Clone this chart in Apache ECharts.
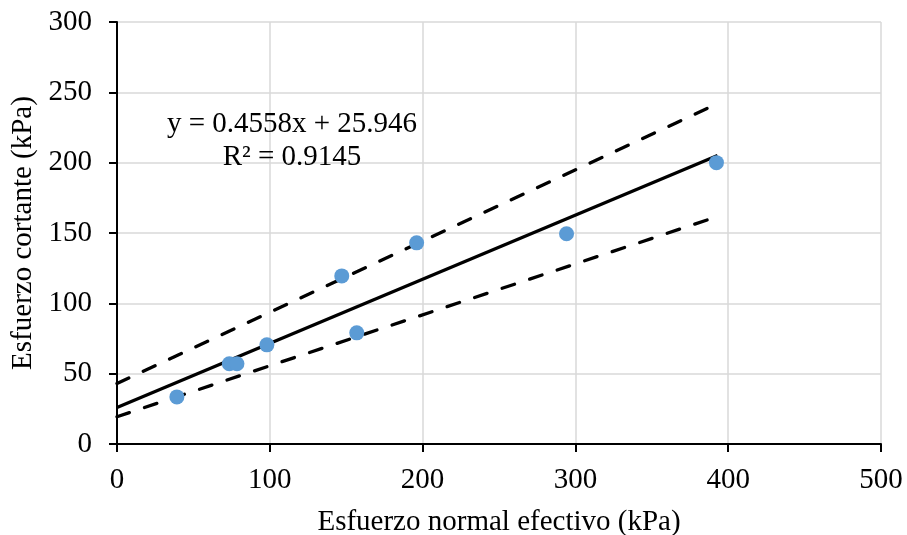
<!DOCTYPE html>
<html>
<head>
<meta charset="utf-8">
<script src="https://cdn.jsdelivr.net/npm/echarts@6/dist/echarts.min.js"></script>
<style>
html,body{margin:0;padding:0;background:#fff;}
#chart{width:907px;height:535px;}
</style>
</head>
<body>
<div id="chart"></div>
<script>
// Data
const sigmaN = [39.2, 73.5, 78.5, 98.1, 147.1, 156.9, 196.1, 294.2, 392.3];
const tau = [33.5, 57, 57, 70.5, 119.5, 79, 143, 149.5, 200];
const trendX = [0, 393];
const trendY = [25.9, 205.1];
const upperX = [0, 390];
const upperY = [43, 240.5];
const lowerX = [0, 391];
const lowerY = [19.4, 161];
const xTicks = [0, 100, 200, 300, 400, 500];
const yTicks = [0, 50, 100, 150, 200, 250, 300];
const eqLine1 = 'y = 0.4558x + 25.946';
const eqLine2 = 'R² = 0.9145';

const FONT = '"Liberation Serif", "Times New Roman", serif';
const pairs = (xs, ys) => xs.map((x, i) => [x, ys[i]]);

const chart = echarts.init(document.getElementById('chart'), null, {renderer: 'canvas'});
const dashStyle = {color: '#000', width: 3.3, type: [13, 16], cap: 'round'};
chart.setOption({
  animation: false,
  backgroundColor: '#fff',
  grid: {left: 117, right: 26, top: 22, bottom: 91, containLabel: false, outerBoundsMode: 'none'},
  xAxis: {
    type: 'value', min: xTicks[0], max: xTicks[xTicks.length - 1], interval: 100,
    name: 'Esfuerzo normal efectivo (kPa)', nameLocation: 'middle', nameGap: 64,
    nameTextStyle: {fontFamily: FONT, fontSize: 29, color: '#000'},
    axisLine: {onZero: false, lineStyle: {color: '#000', width: 2}},
    axisTick: {show: true, inside: false, length: 8, lineStyle: {color: '#000', width: 2}},
    axisLabel: {margin: 22, fontFamily: FONT, fontSize: 29, color: '#000'},
    splitLine: {show: true, lineStyle: {color: '#d9d9d9', width: 1.5}}
  },
  yAxis: {
    type: 'value', min: yTicks[0], max: yTicks[yTicks.length - 1], interval: 50,
    name: 'Esfuerzo cortante (kPa)', nameLocation: 'middle', nameGap: 76,
    nameTextStyle: {fontFamily: FONT, fontSize: 29, color: '#000'},
    axisLine: {onZero: false, lineStyle: {color: '#000', width: 2}},
    axisTick: {show: true, inside: false, length: 8, lineStyle: {color: '#000', width: 2}},
    axisLabel: {margin: 25, fontFamily: FONT, fontSize: 29, color: '#000'},
    splitLine: {show: true, lineStyle: {color: '#d9d9d9', width: 1.5}}
  },
  series: [
    {type: 'line', data: pairs(upperX, upperY), symbol: 'none', lineStyle: dashStyle, z: 3},
    {type: 'line', data: pairs(lowerX, lowerY), symbol: 'none', lineStyle: dashStyle, z: 3},
    {type: 'line', data: pairs(trendX, trendY), symbol: 'none', lineStyle: {color: '#000', width: 3.3}, z: 3},
    {type: 'scatter', data: pairs(sigmaN, tau), symbol: 'circle', symbolSize: 15,
     itemStyle: {color: '#5b9bd5', opacity: 1}, z: 4}
  ],
  graphic: [
    {type: 'text', x: 292, y: 124, z: 10, style: {text: eqLine1, font: '29px ' + FONT, fill: '#000', align: 'center', verticalAlign: 'middle'}},
    {type: 'text', x: 292, y: 157, z: 10, style: {text: eqLine2, font: '29px ' + FONT, fill: '#000', align: 'center', verticalAlign: 'middle'}}
  ]
});
</script>
</body>
</html>
